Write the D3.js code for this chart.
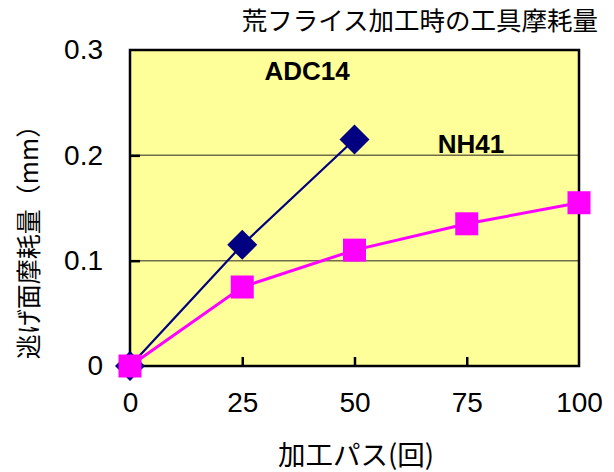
<!DOCTYPE html>
<html>
<head>
<meta charset="utf-8">
<script src="https://cdn.jsdelivr.net/npm/d3@7"></script>
<style>
  html, body { margin: 0; padding: 0; background: #ffffff; }
  svg { display: block; }
</style>
</head>
<body>
<svg id="chart" width="614" height="472"></svg>
<script>
// Tool wear during rough milling: flank wear vs. machining passes
const passes = [0, 25, 50, 75, 100];
const adc14Passes = [0, 25, 50];
const adc14Wear = [0, 0.115, 0.215];
const nh41Passes = [0, 25, 50, 75, 100];
const nh41Wear = [0, 0.075, 0.110, 0.135, 0.155];
const xTicks = [0, 25, 50, 75, 100];
const yTicks = [0, 0.1, 0.2, 0.3];
const yTickLabels = ["0", "0.1", "0.2", "0.3"];

const title = "荒フライス加工時の工具摩耗量";
const xTitle = "加工パス(回)";
const yTitle = "逃げ面摩耗量（mm）";

const svg = d3.select("#chart");
const plotLeft = 130, plotRight = 579, plotTop = 50, plotBottom = 366;

const x = d3.scaleLinear().domain([0, 100]).range([plotLeft, plotRight]);
const y = d3.scaleLinear().domain([0, 0.3]).range([plotBottom, plotTop]);

const numFont = "'Liberation Sans', Arial, sans-serif";
const jpFont = "'Noto Sans CJK JP', 'Noto Sans', sans-serif";

// plot background
svg.append("rect")
  .attr("x", plotLeft).attr("y", plotTop)
  .attr("width", plotRight - plotLeft).attr("height", plotBottom - plotTop)
  .attr("fill", "#ffff99");

// horizontal gridlines
svg.append("g")
  .selectAll("line")
  .data(yTicks.filter(v => v > 0 && v < 0.3))
  .join("line")
  .attr("x1", plotLeft).attr("x2", plotRight)
  .attr("y1", d => y(d)).attr("y2", d => y(d))
  .attr("stroke", "#6e6e4c")
  .attr("stroke-width", 1.5);

// axes with inward ticks
const xAxis = d3.axisBottom(x)
  .tickValues(xTicks)
  .tickSizeInner(-9)
  .tickSizeOuter(0)
  .tickPadding(26)
  .tickFormat(d3.format("d"));

const yAxis = d3.axisLeft(y)
  .tickValues(yTicks)
  .tickSizeInner(-10)
  .tickSizeOuter(0)
  .tickPadding(27)
  .tickFormat((d, i) => yTickLabels[i]);

const gx = svg.append("g").attr("transform", `translate(0,${plotBottom})`).call(xAxis);
const gy = svg.append("g").attr("transform", `translate(${plotLeft},0)`).call(yAxis);

[gx, gy].forEach(g => {
  g.select(".domain").remove();
  g.selectAll(".tick line").attr("stroke", "#000").attr("stroke-width", 2.5);
  g.selectAll(".tick text")
    .attr("fill", "#000")
    .style("font-family", numFont)
    .style("font-size", "28px");
});
gy.selectAll(".tick")
  .filter(d => d === 0 || d === 0.3)
  .select("line").remove();
gx.selectAll(".tick")
  .filter(d => d === 0 || d === 100)
  .select("line").remove();

// plot frame
svg.append("rect")
  .attr("x", plotLeft).attr("y", plotTop)
  .attr("width", plotRight - plotLeft).attr("height", plotBottom - plotTop)
  .attr("fill", "none")
  .attr("stroke", "#000")
  .attr("stroke-width", 2.5);

const line = d3.line().x(d => x(d[0])).y(d => y(d[1]));

// ADC14 series
const adc = adc14Passes.map((p, i) => [p, adc14Wear[i]]);
svg.append("path")
  .datum(adc)
  .attr("d", line)
  .attr("fill", "none")
  .attr("stroke", "#000080")
  .attr("stroke-width", 2.2);
svg.append("g")
  .selectAll("path")
  .data(adc)
  .join("path")
  .attr("transform", d => `translate(${x(d[0])},${y(d[1])})`)
  .attr("d", "M0,-15L15,0L0,15L-15,0Z")
  .attr("fill", "#000080");

// NH41 series
const nh = nh41Passes.map((p, i) => [p, nh41Wear[i]]);
svg.append("path")
  .datum(nh)
  .attr("d", line)
  .attr("fill", "none")
  .attr("stroke", "#ff00ff")
  .attr("stroke-width", 3);
svg.append("g")
  .selectAll("rect")
  .data(nh)
  .join("rect")
  .attr("x", d => x(d[0]) - 11.5)
  .attr("y", d => y(d[1]) - 11.5)
  .attr("width", 23).attr("height", 23)
  .attr("fill", "#ff00ff");

// series labels
svg.append("text")
  .attr("x", 307).attr("y", 80)
  .attr("text-anchor", "middle")
  .style("font-family", numFont)
  .style("font-weight", "bold")
  .style("font-size", "26px")
  .text("ADC14");
svg.append("text")
  .attr("x", 471).attr("y", 153)
  .attr("text-anchor", "middle")
  .style("font-family", numFont)
  .style("font-weight", "bold")
  .style("font-size", "26px")
  .text("NH41");

// titles
svg.append("text")
  .attr("x", 598).attr("y", 30)
  .attr("text-anchor", "end")
  .style("font-family", jpFont)
  .style("font-size", "25.5px")
  .text(title);

svg.append("text")
  .attr("x", 356).attr("y", 465)
  .attr("text-anchor", "middle")
  .style("font-family", jpFont)
  .style("font-size", "27.5px")
  .text(xTitle);

svg.append("text")
  .attr("transform", "translate(27,236) rotate(-90)")
  .attr("text-anchor", "middle")
  .attr("dominant-baseline", "central")
  .style("font-family", jpFont)
  .style("font-size", "25px")
  .text(yTitle);
</script>
</body>
</html>
